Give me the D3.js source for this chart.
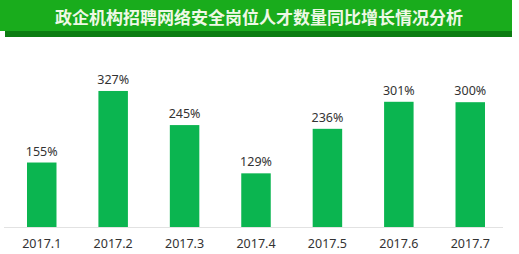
<!DOCTYPE html>
<html lang="zh">
<head>
<meta charset="UTF-8">
<script src="https://d3js.org/d3.v7.min.js"></script>
<style>
  body { margin: 0; background: #fff; }
  svg { display: block; }
</style>
</head>
<body>
<svg></svg>
<script>
    // data
    let title = "政企机构招聘网络安全岗位人才数量同比增长情况分析";
    let months = ["2017.1", "2017.2", "2017.3", "2017.4", "2017.5", "2017.6", "2017.7"];
    let growth = [155, 327, 245, 129, 236, 301, 300];

    let width = 519, height = 254;
    let svg = d3.select("svg")
        .attr("width", width)
        .attr("height", height);

    // title banner with dark strip underneath
    svg.append("rect")
        .attr("x", 5).attr("y", 30)
        .attr("width", 507).attr("height", 7)
        .attr("fill", "#0c7d12");
    svg.append("rect")
        .attr("x", 0).attr("y", 0)
        .attr("width", 512).attr("height", 31)
        .attr("fill", "#19ac1c");
    svg.append("text")
        .attr("x", 259).attr("y", 24)
        .attr("text-anchor", "middle")
        .style("font-family", "'Noto Sans CJK SC', sans-serif")
        .style("font-weight", "bold")
        .style("font-size", "17px")
        .attr("fill", "#eef8e6")
        .text(title);

    let x = d3.scaleBand()
        .domain(months)
        .range([7, 505])
        .paddingInner(0.587)
        .paddingOuter(0.28);

    let y = d3.scaleLinear()
        .domain([0, 350])
        .range([227, 227 - 350 * 0.416]);

    // baseline
    svg.append("line")
        .attr("x1", 4).attr("x2", 503)
        .attr("y1", y(0) + 0.5).attr("y2", y(0) + 0.5)
        .attr("stroke", "#e2e2e2");

    svg.append("g")
        .selectAll("rect")
        .data(growth)
        .enter()
        .append("rect")
        .attr("x", (d, i) => x(months[i]))
        .attr("y", d => y(d))
        .attr("width", x.bandwidth())
        .attr("height", d => y(0) - y(d))
        .attr("fill", "#0bb550");

    // value labels
    svg.append("g")
        .selectAll("text")
        .data(growth)
        .enter()
        .append("text")
        .attr("x", (d, i) => x(months[i]) + x.bandwidth() / 2)
        .attr("y", d => y(d) - 7)
        .attr("text-anchor", "middle")
        .style("font-family", "'Noto Sans', sans-serif")
        .style("font-size", "12.5px")
        .attr("fill", "#333")
        .text(d => d + "%");

    // category labels
    svg.append("g")
        .selectAll("text")
        .data(months)
        .enter()
        .append("text")
        .attr("x", d => x(d) + x.bandwidth() / 2)
        .attr("y", 248)
        .attr("text-anchor", "middle")
        .style("font-family", "'Noto Sans', sans-serif")
        .style("font-size", "12.5px")
        .attr("fill", "#333")
        .text(d => d);
</script>
</body>
</html>
